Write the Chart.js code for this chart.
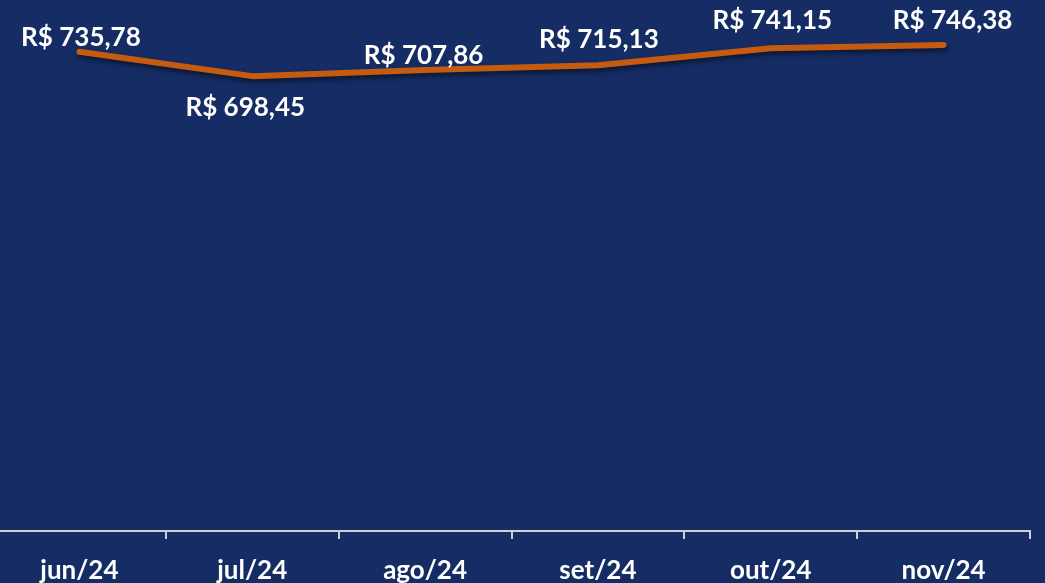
<!DOCTYPE html>
<html>
<head>
<meta charset="utf-8">
<script src="https://cdn.jsdelivr.net/npm/chart.js@4"></script>
<style>
  html, body { margin: 0; padding: 0; background: #152c64; overflow: hidden; }
  #wrap { position: absolute; left: -7px; top: 0; width: 1052px; height: 583px; }
</style>
</head>
<body>
<div id="wrap"><canvas id="c" width="1052" height="583"></canvas></div>
<script>
const categories = ["jun/24", "jul/24", "ago/24", "set/24", "out/24", "nov/24"];
const values = [735.78, 698.45, 707.86, 715.13, 741.15, 746.38];
const valueLabels = ["R$ 735,78", "R$ 698,45", "R$ 707,86", "R$ 715,13", "R$ 741,15", "R$ 746,38"];

// label placement (style only)
const labelDx = [1.5, -7, -1.5, 1, 1.5, 9];
const labelDy = [-14, 31.5, -14, -25.5, -27.5, -24];

const FONT = "Lato, 'Open Sans', sans-serif";

const valueLabelPlugin = {
  id: 'valueLabels',
  afterDatasetsDraw(chart) {
    const ctx = chart.ctx;
    const meta = chart.getDatasetMeta(0);
    ctx.save();
    ctx.font = "bold 26px " + FONT;
    ctx.fillStyle = "#ffffff";
    ctx.textAlign = "center";
    ctx.textBaseline = "middle";
    meta.data.forEach((pt, i) => {
      ctx.fillText(valueLabels[i], pt.x + labelDx[i], pt.y + labelDy[i]);
    });
    ctx.restore();
  }
};

const shadowPlugin = {
  id: 'lineShadow',
  beforeDatasetDraw(chart) {
    const ctx = chart.ctx;
    ctx.save();
    ctx.shadowColor = "rgba(0,0,0,0.55)";
    ctx.shadowBlur = 5;
    ctx.shadowOffsetX = 1;
    ctx.shadowOffsetY = 3;
  },
  afterDatasetDraw(chart) {
    chart.ctx.restore();
  }
};

new Chart(document.getElementById('c'), {
  type: 'line',
  data: {
    labels: categories,
    datasets: [{
      data: values,
      borderColor: "#c55a11",
      borderWidth: 6,
      borderCapStyle: 'round',
      borderJoinStyle: 'round',
      tension: 0,
      pointRadius: 0,
      pointHoverRadius: 0,
      fill: false
    }]
  },
  options: {
    responsive: false,
    animation: false,
    events: [],
    layout: { padding: { top: 10, right: 15, left: 0, bottom: 0 } },
    plugins: { legend: { display: false }, tooltip: { enabled: false } },
    scales: {
      x: {
        offset: true,
        grid: {
          offset: true,
          drawOnChartArea: false,
          drawTicks: true,
          tickLength: 8,
          color: "#d0d0d0",
          lineWidth: 2
        },
        border: { display: true, color: "#d0d0d0", width: 2 },
        ticks: {
          color: "#ffffff",
          padding: 16,
          font: { family: FONT, size: 26, weight: 'bold' },
          maxRotation: 0,
          autoSkip: false
        },
        afterFit(s) { s.height = 52; }
      },
      y: {
        display: false,
        min: 0,
        max: 800
      }
    }
  },
  plugins: [shadowPlugin, valueLabelPlugin]
});
</script>
</body>
</html>
